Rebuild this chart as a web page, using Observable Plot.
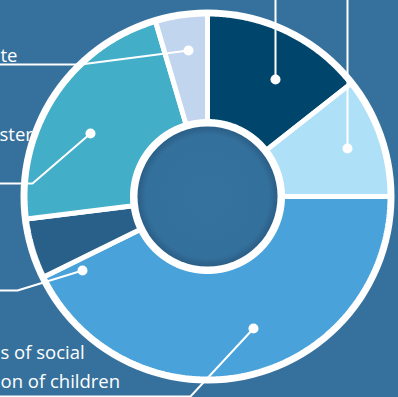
<!DOCTYPE html>
<html><head><meta charset="utf-8">
<script src="https://cdn.jsdelivr.net/npm/d3@7"></script>
<script src="https://cdn.jsdelivr.net/npm/@observablehq/plot@0.6"></script>
<style>html,body{margin:0;padding:0;background:#36719d;overflow:hidden}</style>
</head><body><div id="chart"></div>
<script>
// ---- data ----
const categories = ["navy", "light", "social", "slate", "ster", "te"];
const values = [14.4, 10.6, 42.8, 5.3, 22.4, 4.6];
const colors = ["#00456b", "#aee0f7", "#49a2da", "#28608a", "#42aec8", "#c2d5ee"];
const labelLines = [[], [], ["s of social", "on of children"], [], ["ster"], ["te"]];

// ---- layout (pixels / units relative to donut centre, y up) ----
const W = 398, H = 397, CX = 207, CY = 196;
const R_RING = 187, R_OUT = 182.5, R_IN = 75, R_HOLE = 70;
const labelAnchor = [null, null, [-207, -191], null, [-208, 56], [-207, 135]]; // left start, baseline of last line
const lineStep = 29;
const leaders = [
  [[68, 117], [68, 205]],
  [[140, 48], [140, 205]],
  [[46, -132], [-17, -200], [-220, -200]],
  [[-125, -74], [-190, -94], [-220, -94]],
  [[-117, 63], [-175, 13], [-220, 13]],
  [[-19, 146], [-127, 132], [-220, 132]]
];

// ---- derived geometry ----
const total = d3.sum(values);
let acc = 0;
const slicePts = [];
values.forEach((v, i) => {
  const a0 = acc / total * 2 * Math.PI; acc += v;
  const a1 = acc / total * 2 * Math.PI;
  const n = Math.max(8, Math.ceil((a1 - a0) / (Math.PI / 360)));
  const pts = [];
  for (let k = 0; k <= n; k++) { const a = a0 + (a1 - a0) * k / n; pts.push({x: R_OUT * Math.sin(a), y: R_OUT * Math.cos(a)}); }
  for (let k = n; k >= 0; k--) { const a = a0 + (a1 - a0) * k / n; pts.push({x: R_IN * Math.sin(a), y: R_IN * Math.cos(a)}); }
  pts.push(pts[0]);
  slicePts.push(pts);
});

const texts = [];
labelLines.forEach((lines, i) => {
  if (!labelAnchor[i]) return;
  const [x, y] = labelAnchor[i];
  lines.forEach((t, j) => texts.push({x, y: y + (lines.length - 1 - j) * lineStep, t}));
});
const leaderPts = leaders.flatMap((pts, i) => pts.map(([x, y]) => ({x, y, i})));
const leaderDots = leaders.map(pts => ({x: pts[0][0], y: pts[0][1]}));

const chart = Plot.plot({
  width: W, height: H,
  margin: 0,
  x: {domain: [-CX, W - CX], axis: null},
  y: {domain: [CY - H, CY], axis: null},
  style: {background: "#36719d", fontFamily: "'Open Sans', sans-serif"},
  marks: [
    Plot.text(texts, {x: "x", y: "y", text: "t", textAnchor: "start", lineAnchor: "bottom", fill: "white", fontSize: 18.5}),
    Plot.dot([{x: 0, y: 0}], {x: "x", y: "y", r: R_RING, fill: "white", stroke: "none", ariaLabel: "disc"}),
    ...slicePts.map((pts, i) => Plot.line(pts, {x: "x", y: "y", fill: colors[i], stroke: "white", strokeWidth: 5, curve: "linear", strokeLinejoin: "miter"})),
    Plot.dot([{x: 0, y: 0}], {x: "x", y: "y", r: R_HOLE, fill: "url(#holeGrad)", stroke: "none"}),
    Plot.line(leaderPts, {x: "x", y: "y", z: "i", stroke: "white", strokeWidth: 2, strokeLinejoin: "miter"}),
    Plot.dot(leaderDots, {x: "x", y: "y", r: 5, fill: "white", stroke: "none"})
  ]
});

const svg = d3.select(chart);
const defs = svg.insert("defs", ":first-child");
const g = defs.append("radialGradient").attr("id", "holeGrad");
g.append("stop").attr("offset", "0%").attr("stop-color", "#36729e");
g.append("stop").attr("offset", "88%").attr("stop-color", "#34709c");
g.append("stop").attr("offset", "100%").attr("stop-color", "#2a5e86");
svg.select('[aria-label="disc"]').style("filter", "drop-shadow(4px 5px 6px rgba(0,20,50,0.4))");
document.getElementById("chart").appendChild(chart);
</script>
</body></html>
